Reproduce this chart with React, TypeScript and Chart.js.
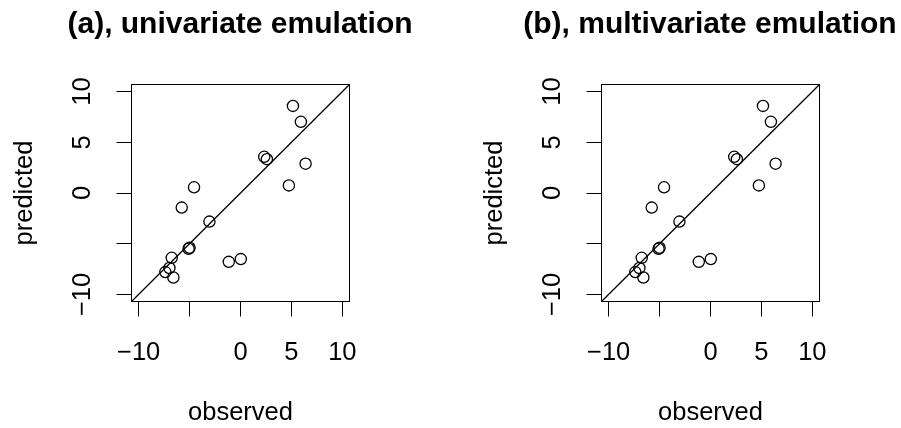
import React, { useEffect, useRef } from 'react';
import { Chart, registerables } from 'chart.js';

Chart.register(...registerables);

// ---- data ----
const observed = [5.15, 5.93, 2.33, 2.59, 6.39, 4.75, -4.56, -5.77, -3.05, -5.1, -5.0, -6.75, -1.15, 0.03, -6.98, -7.38, -6.59];
const predictedUnivariate = [8.59, 7.02, 3.57, 3.34, 2.89, 0.75, 0.56, -1.44, -2.82, -5.5, -5.4, -6.39, -6.79, -6.52, -7.4, -7.8, -8.33];
const predictedMultivariate = [8.59, 7.02, 3.57, 3.34, 2.89, 0.75, 0.56, -1.44, -2.82, -5.5, -5.4, -6.39, -6.79, -6.52, -7.4, -7.8, -8.33];
const tickValues = [-10, -5, 0, 5, 10];
const labelledTicks = [-10, 0, 5, 10];
const panelTitles = ['(a), univariate emulation', '(b), multivariate emulation'];
const xTitle = 'observed';
const yTitle = 'predicted';
const AXIS_LIMIT = 10.7;

const FONT = "'Liberation Sans', Arial, Helvetica, sans-serif";
const LABEL_SIZE = 25.5;

function formatTick(v: number): string {
  if (!labelledTicks.includes(v)) return '';
  return v < 0 ? '\u2212' + Math.abs(v) : String(v);
}

const rPlotPlugin = {
  id: 'rplot',
  afterDraw(chart: any) {
    const { ctx, chartArea: a } = chart;
    ctx.save();
    ctx.strokeStyle = '#000';
    ctx.lineWidth = 1;
    ctx.strokeRect(a.left, a.top, a.right - a.left, a.bottom - a.top);
    const ys = chart.scales.y;
    const o = ys.options;
    const lx = ys.right - o.grid.tickLength - o.ticks.padding - (LABEL_SIZE * 1.2) / 2;
    ctx.font = `${LABEL_SIZE}px ${FONT}`;
    ctx.fillStyle = '#000';
    ctx.textAlign = 'center';
    ctx.textBaseline = 'middle';
    ys.ticks.forEach((t: any) => {
      const label = formatTick(t.value);
      if (!label) return;
      const py = ys.getPixelForValue(t.value);
      ctx.save();
      ctx.translate(lx, py);
      ctx.rotate(-Math.PI / 2);
      ctx.fillText(label, 0, 0);
      ctx.restore();
    });
    ctx.restore();
  },
};

function Panel({ title, predicted, left }: { title: string; predicted: number[]; left: number }) {
  const ref = useRef<HTMLCanvasElement>(null);
  useEffect(() => {
    const canvas = ref.current!;
    const axisCommon = {
      type: 'linear' as const,
      min: -AXIS_LIMIT,
      max: AXIS_LIMIT,
      afterBuildTicks: (scale: any) => {
        scale.ticks = tickValues.map((v) => ({ value: v }));
      },
      grid: {
        display: true,
        drawOnChartArea: false,
        drawTicks: true,
        tickLength: 15,
        color: '#000',
        lineWidth: 1,
      },
      border: { display: false },
    };
    const chart = new Chart(canvas, {
      data: {
        datasets: [
          {
            type: 'line',
            data: [
              { x: -AXIS_LIMIT, y: -AXIS_LIMIT },
              { x: AXIS_LIMIT, y: AXIS_LIMIT },
            ],
            borderColor: '#000',
            borderWidth: 1.3,
            pointRadius: 0,
            fill: false,
          },
          {
            type: 'scatter',
            data: observed.map((x, i) => ({ x, y: predicted[i] })),
            pointStyle: 'circle',
            pointRadius: 5.6,
            borderWidth: 1.3,
            borderColor: '#000',
            backgroundColor: 'rgba(0,0,0,0)',
          },
        ],
      } as any,
      options: {
        responsive: false,
        animation: false,
        layout: { padding: 0 },
        plugins: {
          legend: { display: false },
          tooltip: { enabled: false },
          title: {
            display: true,
            text: title,
            color: '#000',
            font: { family: FONT, size: 30, weight: 'bold', lineHeight: 1.2 },
            padding: { top: 7, bottom: 41.5 },
          },
        },
        scales: {
          x: {
            ...axisCommon,
            position: 'bottom',
            afterFit: (scale: any) => {
              scale.height = 126.5;
            },
            ticks: {
              color: '#000',
              padding: 21.5,
              maxRotation: 0,
              minRotation: 0,
              autoSkip: false,
              font: { family: FONT, size: LABEL_SIZE, lineHeight: 1.2 },
              callback: (v: any) => formatTick(Number(v)),
            },
            title: {
              display: true,
              text: xTitle,
              color: '#000',
              font: { family: FONT, size: LABEL_SIZE, lineHeight: 1.2 },
              padding: { top: 0, bottom: 0 },
            },
          },
          y: {
            ...axisCommon,
            position: 'left',
            afterFit: (scale: any) => {
              scale.width = 131.5;
            },
            ticks: {
              display: false,
              padding: 18.5,
              autoSkip: false,
              font: { family: FONT, size: LABEL_SIZE, lineHeight: 1.2 },
            },
            title: {
              display: true,
              text: yTitle,
              color: '#000',
              font: { family: FONT, size: LABEL_SIZE, lineHeight: 1.2 },
              padding: { top: 10, bottom: 0 },
            },
          },
          yRight: {
            type: 'linear',
            position: 'right',
            display: true,
            grid: { display: false },
            border: { display: false },
            ticks: { display: false },
            afterFit: (scale: any) => {
              scale.width = 130.5;
            },
          },
        },
      } as any,
      plugins: [rPlotPlugin],
    });
    return () => chart.destroy();
  }, [title, predicted]);
  return (
    <canvas
      ref={ref}
      width={480}
      height={428}
      style={{ position: 'absolute', left, top: 0, width: 480, height: 428, display: 'block' }}
    />
  );
}

export default function App() {
  return (
    <div
      style={{
        position: 'fixed',
        left: 0,
        top: 0,
        width: 901,
        height: 428,
        overflow: 'hidden',
        background: '#fff',
      }}
    >
      <Panel title={panelTitles[0]} predicted={predictedUnivariate} left={0} />
      <Panel title={panelTitles[1]} predicted={predictedMultivariate} left={470} />
    </div>
  );
}
